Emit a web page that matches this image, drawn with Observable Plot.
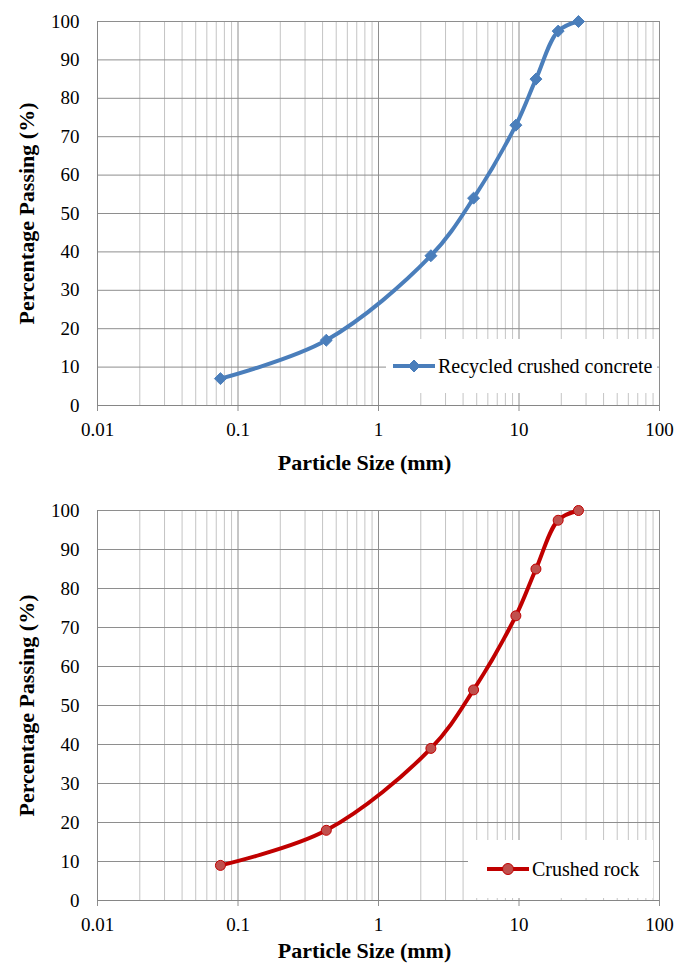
<!DOCTYPE html>
<html><head><meta charset="utf-8">
<script src="https://cdn.jsdelivr.net/npm/d3@7"></script>
<script src="https://cdn.jsdelivr.net/npm/@observablehq/plot@0.6"></script>
<style>
body{margin:0;background:#fff;width:686px;}
.panel{position:relative;width:686px;height:483px;overflow:hidden;}
.panel svg{display:block;}
.panel svg text{font-family:"Liberation Serif","Times New Roman",serif !important;}
.legend{position:absolute;background:#fff;font-family:"Liberation Serif",serif;font-size:20px;color:#000;}
.legend svg{position:absolute;}
.legend span{position:absolute;white-space:nowrap;line-height:1;}
</style>
</head><body>
<div id="top" class="panel"></div>
<div id="bottom" class="panel"></div>
<script>
// Data
const sieveSizes = [0.075, 0.425, 2.36, 4.75, 9.5, 13.2, 19, 26.5];
const recycledPassing = [7, 17, 39, 54, 73, 85, 97.5, 100];
const rockPassing = [9, 18, 39, 54, 73, 85, 97.5, 100];
const seriesNames = ["Recycled crushed concrete", "Crushed rock"];
const xTicks = [0.01, 0.1, 1, 10, 100];
const xTickLabels = ["0.01", "0.1", "1", "10", "100"];
const yTicks = [0, 10, 20, 30, 40, 50, 60, 70, 80, 90, 100];
const minorMultipliers = [2, 3, 4, 5, 6, 7, 8, 9];
const xTitle = "Particle Size (mm)";
const yTitle = "Percentage Passing (%)";

const minorGrid = xTicks.slice(0, -1).flatMap(d => minorMultipliers.map(m => d * m));
const xLabelOf = d => xTickLabels[xTicks.findIndex(t => Math.abs(Math.log10(t) - Math.log10(d)) < 1e-9)];

function chart({values, stroke, markFill, markStroke, symbol, r, marginTop, marginBottom, titleDy}) {
  const data = sieveSizes.map((s, i) => ({size: s, pass: values[i]}));
  return Plot.plot({
    width: 686,
    height: 483,
    marginLeft: 97,
    marginRight: 27,
    marginTop,
    marginBottom,
    style: {fontFamily: "'Liberation Serif', serif", fontSize: "19px", color: "#000", background: "#fff"},
    x: {type: "log", domain: [0.01, 100]},
    y: {domain: [0, 100]},
    marks: [
      Plot.ruleX(minorGrid, {stroke: "#c4c4c4", strokeWidth: 1}),
      Plot.ruleX(xTicks, {stroke: "#8e8e8e", strokeWidth: 1}),
      Plot.ruleY(yTicks, {stroke: "#8e8e8e", strokeWidth: 1}),
      Plot.axisX({ticks: xTicks, tickFormat: xLabelOf, tickSize: 6, tickPadding: 11, stroke: "#8e8e8e", label: null, fontSize: 19}),
      Plot.axisY({ticks: yTicks, tickSize: 0, tickPadding: 18, label: null, fontSize: 19}),
      Plot.ruleX([xTicks[0]], {stroke: "#868686"}),
      Plot.ruleY([0], {stroke: "#868686"}),
      Plot.text([xTitle], {frameAnchor: "bottom", dy: titleDy, dx: -14, fontWeight: "bold", fontSize: 22, lineAnchor: "middle", textAnchor: "middle"}),
      Plot.text([yTitle], {frameAnchor: "left", dx: -71, rotate: -90, fontWeight: "bold", fontSize: 22, lineAnchor: "middle", textAnchor: "middle"}),
      Plot.line(data, {x: "size", y: "pass", curve: "catmull-rom", stroke, strokeWidth: 4}),
      Plot.dot(data, {x: "size", y: "pass", symbol, r, fill: markFill, stroke: markStroke, strokeWidth: 1})
    ]
  });
}

document.getElementById("top").append(chart({
  values: recycledPassing, stroke: "#4a7ebb", markFill: "#4a7ebb", markStroke: "#4a7ebb",
  symbol: "diamond2", r: 5.4, marginTop: 21, marginBottom: 78, titleDy: 57
}));
document.getElementById("bottom").append(chart({
  values: rockPassing, stroke: "#c00000", markFill: "#c0504d", markStroke: "#c00000",
  symbol: "circle", r: 5, marginTop: 27, marginBottom: 66, titleDy: 50
}));

function legend(panelId, name, {left, top, width, height, lineX, lineW, textX, stroke, fill, mstroke, shape}) {
  const div = document.createElement("div");
  div.className = "legend";
  Object.assign(div.style, {left: left + "px", top: top + "px", width: width + "px", height: height + "px"});
  const cy = height / 2;
  const mx = lineW / 2;
  const marker = shape === "diamond"
    ? `<path d="M${mx},1 L${mx + 6},7 L${mx},13 L${mx - 6},7Z" fill="${fill}" stroke="${mstroke}"/>`
    : `<circle cx="${mx}" cy="7" r="5.5" fill="${fill}" stroke="${mstroke}"/>`;
  div.innerHTML = `<svg width="${lineW}" height="14" style="left:${lineX}px;top:${cy - 7}px"><line x1="0" x2="${lineW}" y1="7" y2="7" stroke="${stroke}" stroke-width="4"/>${marker}</svg><span style="left:${textX}px;top:${cy - 10}px">${name}</span>`;
  document.getElementById(panelId).append(div);
}
legend("top", seriesNames[0], {left: 386, top: 339, width: 271, height: 54, lineX: 7, lineW: 42, textX: 52,
  stroke: "#4a7ebb", fill: "#4a7ebb", mstroke: "#4a7ebb", shape: "diamond"});
legend("bottom", seriesNames[1], {left: 468, top: 357, width: 185, height: 58, lineX: 19, lineW: 42, textX: 64,
  stroke: "#c00000", fill: "#c0504d", mstroke: "#c00000", shape: "circle"});
</script>
</body></html>
